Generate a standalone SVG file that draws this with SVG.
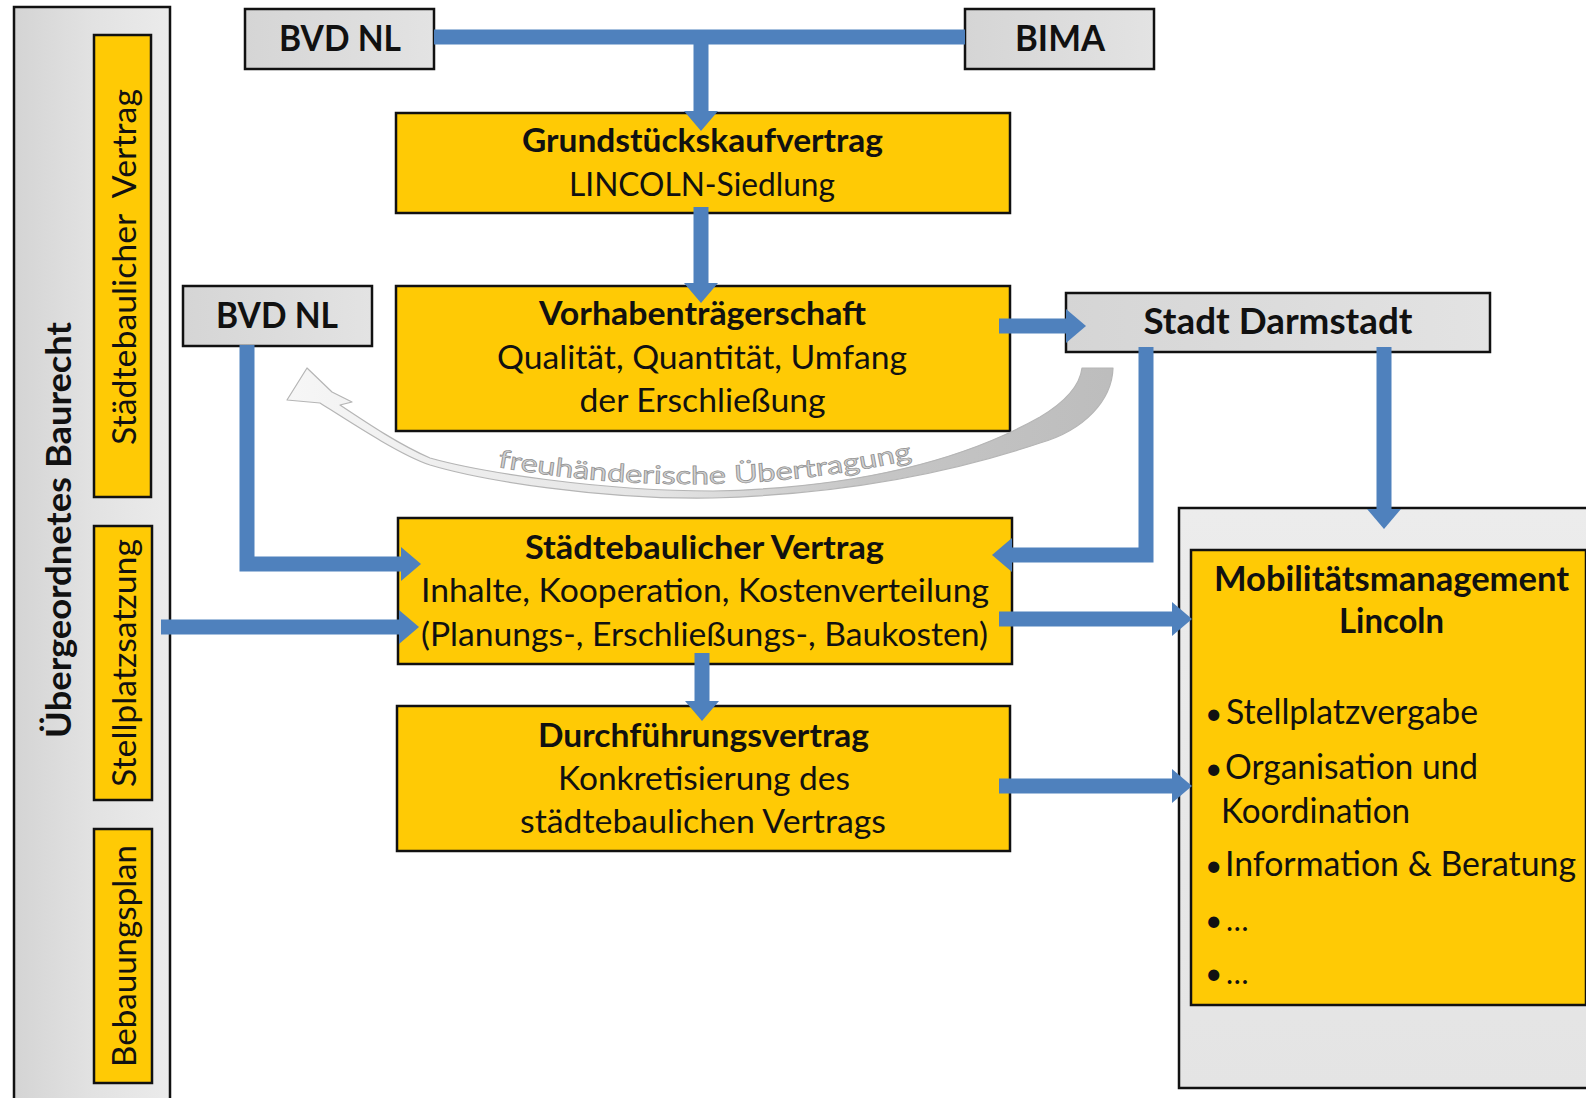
<svg xmlns="http://www.w3.org/2000/svg" width="1586" height="1098" viewBox="0 0 1586 1098">
<defs>
<style>
.t{font-family:Lato,'Open Sans','Liberation Sans',sans-serif;fill:#111;}
.b{font-weight:bold;}
.box{stroke:#111;stroke-width:2.5;}
.yel{fill:#FFCA05;}
.gry{fill:url(#gb);}
.con{fill:none;stroke:#4F81BD;stroke-width:15;stroke-linejoin:miter;}
</style>
<linearGradient id="gb" x1="0" y1="0" x2="1" y2="0">
<stop offset="0" stop-color="#D5D5D5"/><stop offset="1" stop-color="#E3E3E3"/>
</linearGradient>
<linearGradient id="lp" x1="0" y1="0" x2="1" y2="0">
<stop offset="0" stop-color="#D4D4D4"/><stop offset="0.5" stop-color="#E2E2E2"/><stop offset="1" stop-color="#EBEBEB"/>
</linearGradient>
<linearGradient id="mp" x1="0" y1="0" x2="0" y2="1">
<stop offset="0" stop-color="#ECECEC"/><stop offset="1" stop-color="#E4E4E4"/>
</linearGradient>
<linearGradient id="ca" gradientUnits="userSpaceOnUse" x1="1110" y1="0" x2="290" y2="0">
<stop offset="0" stop-color="#BDBDBD"/><stop offset="0.3" stop-color="#C6C6C6"/><stop offset="0.55" stop-color="#E4E4E4"/><stop offset="1" stop-color="#F6F6F6"/>
</linearGradient>
<marker id="ah" markerUnits="userSpaceOnUse" markerWidth="20" markerHeight="34" viewBox="0 0 20 34" refX="1" refY="17" orient="auto">
<path d="M0,0 L20,17 L0,34 z" fill="#4F81BD"/>
</marker>
<path id="tp" d="M492,466 Q713,506 918,458"/>
</defs>
<rect width="1586" height="1098" fill="#FFFFFF"/>

<g id="baurecht">
<rect class="box" x="14" y="7" width="156" height="1110" fill="url(#lp)"/>
<text class="t b" font-size="34" text-anchor="middle" textLength="416" lengthAdjust="spacingAndGlyphs" transform="translate(71,530) rotate(-90)">Übergeordnetes Baurecht</text>
</g>
<g id="bar-staedtebau">
<rect class="box yel" x="94" y="35" width="57" height="462"/>
<text class="t" font-size="33" text-anchor="middle" textLength="356" lengthAdjust="spacingAndGlyphs" transform="translate(136,267) rotate(-90)">Städtebaulicher&#160; Vertrag</text>
</g>
<g id="bar-stellplatz">
<rect class="box yel" x="94" y="526" width="58" height="274"/>
<text class="t" font-size="33" text-anchor="middle" textLength="248" lengthAdjust="spacingAndGlyphs" transform="translate(136,663) rotate(-90)">Stellplatzsatzung</text>
</g>
<g id="bar-bebauung">
<rect class="box yel" x="94" y="829" width="58" height="254"/>
<text class="t" font-size="33" text-anchor="middle" textLength="222" lengthAdjust="spacingAndGlyphs" transform="translate(136,956) rotate(-90)">Bebauungsplan</text>
</g>

<g id="bvd-top">
<rect class="box gry" x="245" y="9" width="189" height="60"/>
<text class="t b" x="340" y="51" font-size="36" text-anchor="middle" textLength="122" lengthAdjust="spacingAndGlyphs">BVD NL</text>
</g>
<g id="bima">
<rect class="box gry" x="965" y="9" width="189" height="60"/>
<text class="t b" x="1060" y="51" font-size="36" text-anchor="middle" textLength="90" lengthAdjust="spacingAndGlyphs">BIMA</text>
</g>
<g id="grundstueck">
<rect class="box yel" x="396" y="113" width="614" height="100"/>
<text class="t b" x="702.5" y="152" font-size="33" text-anchor="middle" textLength="361" lengthAdjust="spacingAndGlyphs">Grundstückskaufvertrag</text>
<text class="t" x="702" y="196" font-size="33" text-anchor="middle" textLength="266" lengthAdjust="spacingAndGlyphs">LINCOLN-Siedlung</text>
</g>
<g id="bvd-mid">
<rect class="box gry" x="183" y="286" width="189" height="60"/>
<text class="t b" x="277" y="328" font-size="36" text-anchor="middle" textLength="122" lengthAdjust="spacingAndGlyphs">BVD NL</text>
</g>
<g id="vorhaben">
<rect class="box yel" x="396" y="286" width="614" height="145"/>
<text class="t b" x="702.5" y="325" font-size="33" text-anchor="middle" textLength="327" lengthAdjust="spacingAndGlyphs">Vorhabenträgerschaft</text>
<text class="t" x="702" y="369" font-size="33" text-anchor="middle" textLength="410" lengthAdjust="spacingAndGlyphs">Qualität, Quantität, Umfang</text>
<text class="t" x="702.5" y="412" font-size="33" text-anchor="middle" textLength="246" lengthAdjust="spacingAndGlyphs">der Erschließung</text>
</g>
<g id="stadt">
<rect class="box gry" x="1066" y="293" width="424" height="59"/>
<text class="t b" x="1278" y="334" font-size="36" text-anchor="middle" textLength="269" lengthAdjust="spacingAndGlyphs">Stadt Darmstadt</text>
</g>
<g id="staedtebau">
<rect class="box yel" x="398" y="518" width="614" height="146"/>
<text class="t b" x="704.5" y="559" font-size="33" text-anchor="middle" textLength="359" lengthAdjust="spacingAndGlyphs">Städtebaulicher Vertrag</text>
<text class="t" x="705" y="602" font-size="33" text-anchor="middle" textLength="568" lengthAdjust="spacingAndGlyphs">Inhalte, Kooperation, Kostenverteilung</text>
<text class="t" x="704.5" y="646" font-size="33" text-anchor="middle" textLength="567" lengthAdjust="spacingAndGlyphs">(Planungs-, Erschließungs-, Baukosten)</text>
</g>
<g id="durchfuehrung">
<rect class="box yel" x="397" y="706" width="613" height="145"/>
<text class="t b" x="703.5" y="747" font-size="33" text-anchor="middle" textLength="331" lengthAdjust="spacingAndGlyphs">Durchführungsvertrag</text>
<text class="t" x="704" y="790" font-size="33" text-anchor="middle" textLength="292" lengthAdjust="spacingAndGlyphs">Konkretisierung des</text>
<text class="t" x="703" y="833" font-size="33" text-anchor="middle" textLength="366" lengthAdjust="spacingAndGlyphs">städtebaulichen Vertrags</text>
</g>
<g id="mobilitaet">
<rect class="box" x="1179" y="508" width="430" height="580" fill="url(#mp)"/>
<rect class="box yel" x="1191" y="550" width="395" height="455"/>
<text class="t b" x="1391.5" y="591" font-size="34" text-anchor="middle" textLength="355" lengthAdjust="spacingAndGlyphs">Mobilitätsmanagement</text>
<text class="t b" x="1391.5" y="633" font-size="34" text-anchor="middle" textLength="105" lengthAdjust="spacingAndGlyphs">Lincoln</text>
<text class="t" x="1205" y="724" font-size="30">•</text>
<text class="t" x="1226" y="724" font-size="34" textLength="252" lengthAdjust="spacingAndGlyphs">Stellplatzvergabe</text>
<text class="t" x="1205" y="779" font-size="30">•</text>
<text class="t" x="1225" y="779" font-size="34" textLength="253" lengthAdjust="spacingAndGlyphs">Organisation und</text>
<text class="t" x="1221" y="823" font-size="34" textLength="189" lengthAdjust="spacingAndGlyphs">Koordination</text>
<text class="t" x="1205" y="876" font-size="30">•</text>
<text class="t" x="1225" y="876" font-size="34" textLength="351" lengthAdjust="spacingAndGlyphs">Information &amp; Beratung</text>
<text class="t" x="1205" y="931" font-size="30">•</text>
<text class="t" x="1226" y="931" font-size="30">…</text>
<text class="t" x="1205" y="984" font-size="30">•</text>
<text class="t" x="1226" y="984" font-size="30">…</text>
</g>

<g id="treuhand">
<path d="M1082,368 L1113,368 C1112,400 1085,430 1040,443 C960,470 850,494 713,498 C600,500 480,480 430,465 C400,455 350,422 320,403 L287,400 L307,368 L332,392 L352,402 L340,405 C370,425 400,445 430,458 C480,472 600,491 713,491 C850,488 960,462 1040,417 C1065,402 1080,385 1082,368 Z" fill="url(#ca)" stroke="#B5B5B5" stroke-width="1.2" stroke-linejoin="round"/>
<text class="t" font-size="25" stroke="#8E8E8E" stroke-width="0.7" style="fill:#D2D2D2"><textPath href="#tp" startOffset="50%" text-anchor="middle" textLength="418" lengthAdjust="spacingAndGlyphs">freuhänderische Übertragung</textPath></text>
</g>

<g id="connectors">
<path class="con" d="M434,37 H965" stroke-width="18"/>
<path class="con" d="M701,44 V112" marker-end="url(#ah)"/>
<path class="con" d="M701,207 V284" marker-end="url(#ah)"/>
<path class="con" d="M999,326 H1067" stroke-width="13" marker-end="url(#ah)"/>
<path class="con" d="M1146,347 V555 H1011" marker-end="url(#ah)"/>
<path class="con" d="M1384,347 V510" marker-end="url(#ah)"/>
<path class="con" d="M247,345 V564 H402" marker-end="url(#ah)"/>
<path class="con" d="M161,627 H400" marker-end="url(#ah)"/>
<path class="con" d="M999,619 H1173" marker-end="url(#ah)"/>
<path class="con" d="M702,653 V702" marker-end="url(#ah)"/>
<path class="con" d="M999,786 H1173" marker-end="url(#ah)"/>
</g>
</svg>
